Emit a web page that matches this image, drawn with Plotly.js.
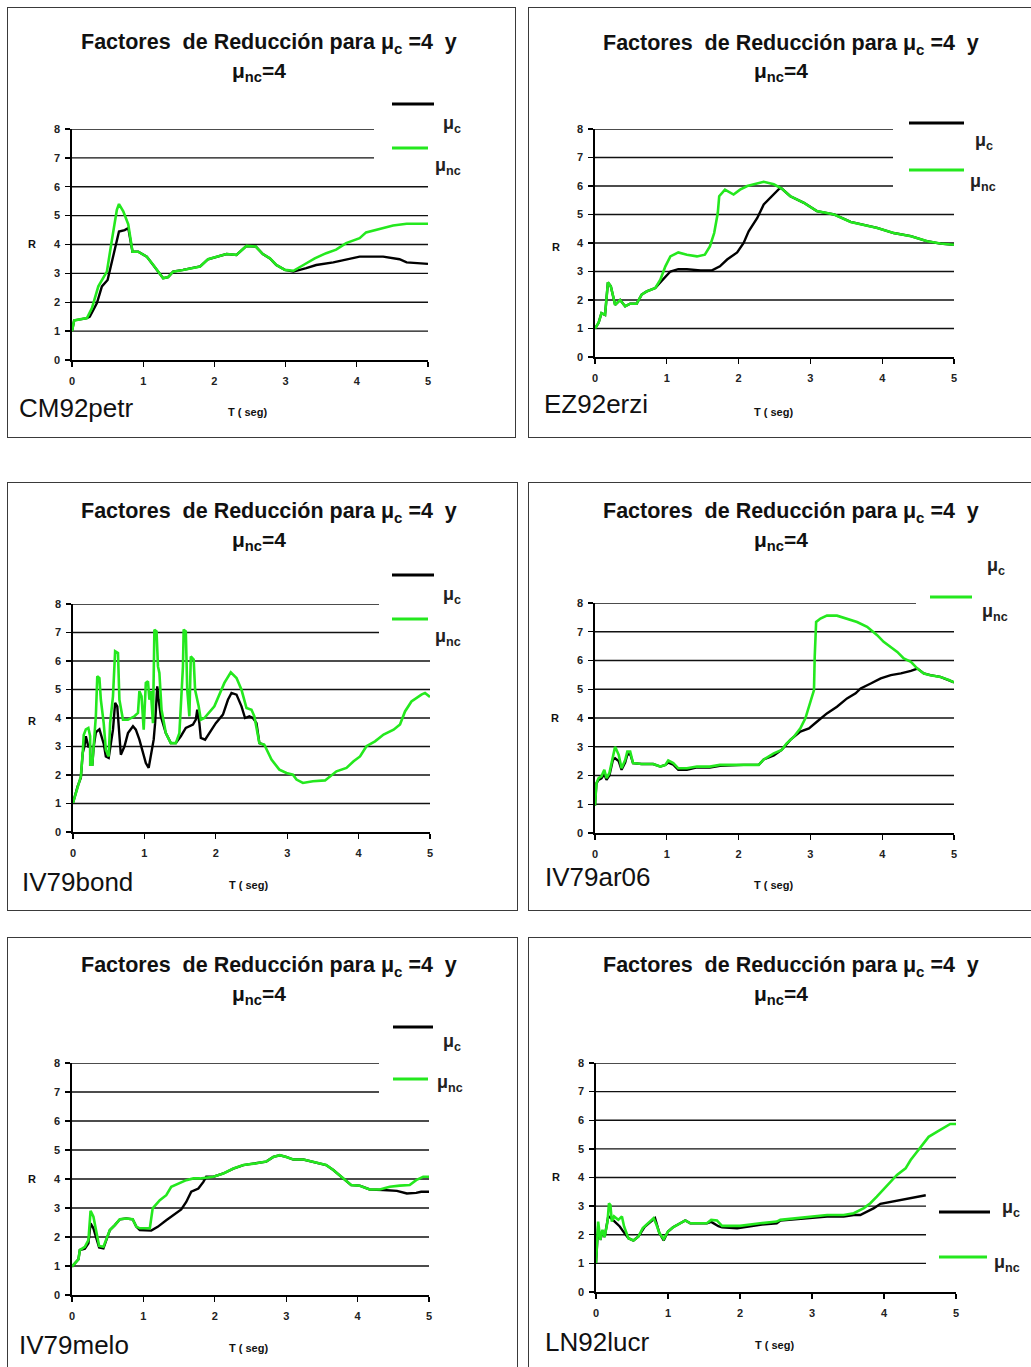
<!DOCTYPE html>
<html>
<head>
<meta charset="utf-8">
<script src="https://cdn.plot.ly/plotly-3.0.1.min.js"></script>
<style>
  body { margin:0; background:#fff; width:1031px; height:1367px; overflow:hidden; position:relative; }
  .box { position:absolute; border:1.5px solid #3a3a3a; box-sizing:border-box; background:#fff; }
  .plt { position:absolute; }
</style>
</head>
<body>
<script>
// ---------------- DATA ----------------
// Panel 1: CM92petr
const cm92petr_T_c  = [0,0.03,0.21,0.25,0.35,0.42,0.5,0.58,0.66,0.74,0.79,0.85,0.93,1.05,1.14,1.28,1.35,1.42,1.56,1.70,1.80,1.91,2.03,2.17,2.31,2.45,2.58,2.68,2.78,2.87,2.99,3.11,3.29,3.43,3.67,3.85,4.04,4.37,4.60,4.70,4.84,5.0];
const cm92petr_R_c  = [1.0,1.37,1.45,1.50,1.97,2.55,2.77,3.58,4.45,4.50,4.57,3.75,3.75,3.58,3.30,2.83,2.87,3.06,3.12,3.18,3.24,3.49,3.58,3.67,3.64,3.95,3.93,3.67,3.52,3.29,3.12,3.06,3.18,3.29,3.38,3.47,3.58,3.58,3.49,3.38,3.35,3.33];
const cm92petr_T_nc = [0,0.03,0.21,0.28,0.37,0.49,0.56,0.63,0.66,0.72,0.79,0.85,0.93,1.05,1.14,1.28,1.35,1.42,1.56,1.70,1.80,1.91,2.03,2.17,2.31,2.45,2.58,2.68,2.78,2.87,2.99,3.11,3.25,3.41,3.57,3.71,3.85,4.04,4.13,4.32,4.51,4.70,5.0];
const cm92petr_R_nc = [1.0,1.37,1.45,1.80,2.55,3.06,4.15,5.20,5.40,5.15,4.70,3.75,3.75,3.58,3.30,2.83,2.87,3.06,3.12,3.18,3.24,3.49,3.58,3.67,3.64,3.95,3.93,3.67,3.52,3.29,3.12,3.09,3.29,3.52,3.70,3.82,4.05,4.22,4.42,4.53,4.66,4.72,4.72];

// Panel 2: EZ92erzi
const ez92erzi_T_c  = [0,0.05,0.09,0.14,0.18,0.22,0.28,0.35,0.42,0.49,0.58,0.65,0.72,0.84,0.88,0.98,1.05,1.16,1.28,1.47,1.63,1.74,1.84,1.98,2.07,2.14,2.26,2.35,2.49,2.58,2.60,2.72,2.91,3.09,3.33,3.56,3.93,4.16,4.40,4.63,4.81,5.0];
const ez92erzi_R_c  = [1.0,1.2,1.54,1.48,2.62,2.48,1.83,2.0,1.78,1.87,1.87,2.19,2.30,2.42,2.54,2.83,3.0,3.08,3.08,3.04,3.04,3.18,3.42,3.67,4.0,4.41,4.88,5.35,5.70,5.94,5.91,5.64,5.41,5.12,5.0,4.74,4.53,4.35,4.24,4.06,3.98,3.94];
const ez92erzi_T_nc = [0,0.05,0.09,0.14,0.18,0.22,0.28,0.35,0.42,0.49,0.58,0.65,0.72,0.84,0.91,0.98,1.05,1.16,1.28,1.42,1.53,1.60,1.66,1.71,1.73,1.81,1.93,2.02,2.12,2.26,2.35,2.49,2.60,2.72,2.91,3.09,3.33,3.56,3.93,4.16,4.40,4.63,4.81,5.0];
const ez92erzi_R_nc = [1.0,1.2,1.54,1.48,2.62,2.48,1.83,2.0,1.78,1.87,1.87,2.19,2.30,2.42,2.71,3.18,3.53,3.67,3.59,3.53,3.59,3.88,4.35,5.05,5.64,5.87,5.70,5.87,6.0,6.09,6.15,6.06,5.91,5.64,5.41,5.12,5.0,4.74,4.53,4.35,4.24,4.06,3.98,3.94];

// Panel 3: IV79bond
const iv79bond_T_c  = [0,0.065,0.11,0.136,0.16,0.18,0.215,0.24,0.241,0.27,0.29,0.32,0.37,0.43,0.46,0.50,0.56,0.59,0.62,0.64,0.67,0.72,0.77,0.84,0.88,0.93,0.98,1.02,1.06,1.09,1.13,1.15,1.18,1.20,1.23,1.30,1.37,1.44,1.51,1.58,1.63,1.68,1.72,1.74,1.77,1.79,1.85,1.91,2.0,2.10,2.17,2.22,2.29,2.36,2.41,2.47,2.52,2.57,2.61,2.68];
const iv79bond_R_c  = [1.02,1.6,1.9,2.77,3.0,3.36,3.0,3.0,2.36,2.36,3.0,3.5,3.6,3.1,2.65,2.6,3.59,4.53,4.41,3.59,2.71,3.0,3.47,3.71,3.59,3.24,2.77,2.42,2.25,2.65,3.24,3.82,5.11,4.64,4.06,3.47,3.12,3.12,3.36,3.65,3.71,3.77,3.94,4.29,3.82,3.3,3.24,3.47,3.82,4.12,4.64,4.88,4.82,4.41,4.0,4.06,4.0,3.82,3.12,3.06];
const iv79bond_T_nc = [0,0.065,0.11,0.136,0.15,0.18,0.215,0.24,0.241,0.27,0.29,0.32,0.34,0.37,0.39,0.43,0.46,0.50,0.52,0.56,0.59,0.63,0.65,0.70,0.77,0.86,0.91,0.93,0.96,0.99,1.02,1.05,1.07,1.09,1.12,1.14,1.17,1.19,1.21,1.24,1.30,1.37,1.44,1.49,1.54,1.55,1.58,1.60,1.63,1.65,1.69,1.71,1.76,1.79,1.84,1.98,2.12,2.21,2.29,2.36,2.43,2.50,2.54,2.61,2.68,2.78,2.89,2.99,3.08,3.13,3.22,3.36,3.53,3.60,3.69,3.83,3.93,4.02,4.11,4.23,4.35,4.49,4.58,4.65,4.74,4.88,4.93,5.0];
const iv79bond_R_nc = [1.02,1.6,1.95,2.77,3.4,3.6,3.65,3.36,2.36,2.36,3.0,4.06,5.46,5.4,4.64,3.82,2.89,2.65,3.82,4.76,6.34,6.28,4.64,3.94,3.94,4.06,4.18,4.94,4.76,3.59,5.23,5.29,4.64,4.94,3.82,7.1,7.04,5.81,5.58,4.29,3.47,3.12,3.12,3.47,5.81,7.1,7.04,4.99,4.06,6.16,6.05,4.99,4.41,3.94,4.0,4.41,5.23,5.6,5.4,4.99,4.35,4.29,4.06,3.12,3.06,2.54,2.19,2.07,2.01,1.84,1.72,1.78,1.81,1.95,2.13,2.25,2.48,2.65,3.01,3.18,3.42,3.59,3.77,4.23,4.58,4.82,4.88,4.74];

// Panel 4: IV79ar06
const iv79ar06_T_c  = [0,0.02,0.05,0.09,0.13,0.16,0.20,0.25,0.28,0.33,0.37,0.42,0.45,0.49,0.53,0.65,0.81,0.91,0.98,1.02,1.09,1.16,1.28,1.42,1.60,1.74,2.07,2.28,2.35,2.49,2.60,2.72,2.86,2.98,3.09,3.23,3.37,3.51,3.63,3.70,3.84,3.98,4.12,4.26,4.40,4.49,4.58,4.67,4.81,4.93,5.0];
const iv79ar06_R_c  = [0.96,1.73,1.85,1.9,2.05,1.85,2.0,2.55,2.6,2.5,2.2,2.45,2.72,2.75,2.43,2.4,2.4,2.31,2.37,2.45,2.38,2.2,2.2,2.28,2.28,2.34,2.37,2.37,2.56,2.70,2.89,3.24,3.53,3.64,3.87,4.16,4.39,4.68,4.86,5.03,5.20,5.38,5.49,5.55,5.64,5.72,5.55,5.49,5.43,5.32,5.24];
const iv79ar06_T_nc = [0,0.02,0.05,0.09,0.13,0.16,0.20,0.25,0.28,0.33,0.37,0.42,0.45,0.49,0.53,0.65,0.81,0.91,0.98,1.02,1.09,1.16,1.28,1.42,1.60,1.74,2.07,2.28,2.35,2.49,2.60,2.67,2.77,2.86,2.93,2.99,3.05,3.06,3.08,3.14,3.23,3.37,3.51,3.65,3.79,3.93,4.02,4.12,4.21,4.30,4.40,4.49,4.58,4.67,4.81,4.93,5.0];
const iv79ar06_R_nc = [0.96,1.73,1.91,1.97,2.2,1.91,2.08,2.66,3.0,2.72,2.25,2.54,2.83,2.83,2.43,2.4,2.4,2.31,2.37,2.52,2.43,2.25,2.25,2.31,2.31,2.37,2.37,2.37,2.56,2.77,2.89,3.12,3.35,3.64,3.99,4.51,4.97,6.13,7.34,7.46,7.56,7.56,7.46,7.34,7.17,6.88,6.65,6.47,6.30,6.07,5.95,5.72,5.55,5.49,5.43,5.32,5.24];

// Panel 5: IV79melo
const iv79melo_T_c  = [0,0.04,0.09,0.11,0.18,0.23,0.26,0.30,0.35,0.38,0.44,0.49,0.53,0.60,0.67,0.76,0.85,0.90,0.95,1.11,1.20,1.32,1.42,1.53,1.60,1.67,1.77,1.84,1.88,1.98,2.12,2.26,2.40,2.58,2.72,2.82,2.91,3.0,3.10,3.24,3.38,3.56,3.66,3.75,3.84,3.91,4.03,4.17,4.36,4.55,4.69,4.82,4.89,5.0];
const iv79melo_R_c  = [0.98,1.09,1.23,1.55,1.60,1.78,2.47,2.3,1.84,1.64,1.61,1.95,2.24,2.41,2.61,2.64,2.61,2.36,2.24,2.22,2.35,2.58,2.76,2.95,3.21,3.56,3.67,3.90,4.08,4.08,4.19,4.36,4.48,4.54,4.6,4.76,4.82,4.76,4.67,4.67,4.59,4.48,4.31,4.13,3.96,3.79,3.77,3.64,3.62,3.59,3.50,3.52,3.56,3.56];
const iv79melo_T_nc = [0,0.04,0.09,0.11,0.18,0.23,0.26,0.30,0.35,0.38,0.44,0.49,0.53,0.60,0.67,0.76,0.85,0.90,0.95,1.09,1.13,1.23,1.32,1.39,1.51,1.60,1.70,1.79,1.98,2.12,2.26,2.40,2.58,2.72,2.82,2.91,3.0,3.10,3.24,3.38,3.56,3.66,3.75,3.84,3.91,4.03,4.17,4.31,4.45,4.59,4.73,4.82,4.92,5.0];
const iv79melo_R_nc = [0.98,1.09,1.23,1.55,1.66,1.89,2.9,2.7,2.0,1.69,1.66,2.0,2.24,2.41,2.61,2.64,2.61,2.36,2.3,2.3,2.99,3.27,3.44,3.73,3.85,3.96,4.02,4.02,4.08,4.19,4.36,4.48,4.54,4.6,4.76,4.82,4.76,4.67,4.67,4.59,4.48,4.31,4.13,3.96,3.79,3.77,3.64,3.64,3.73,3.77,3.79,3.96,4.08,4.08];

// Panel 6: LN92lucr
const ln92lucr_T_c  = [0,0.02,0.03,0.06,0.09,0.12,0.17,0.20,0.26,0.33,0.38,0.45,0.52,0.59,0.68,0.77,0.82,0.88,0.94,1.0,1.07,1.17,1.24,1.31,1.54,1.60,1.70,1.75,1.96,2.28,2.51,2.56,2.98,3.21,3.44,3.58,3.67,3.86,3.95,4.13,4.32,4.46,4.58];
const ln92lucr_R_c  = [1.01,1.9,2.3,1.82,2.1,1.92,2.64,2.6,2.46,2.29,2.11,1.88,1.80,1.94,2.29,2.46,2.58,2.06,1.80,2.11,2.26,2.40,2.50,2.40,2.40,2.45,2.30,2.26,2.23,2.35,2.40,2.50,2.60,2.64,2.64,2.69,2.69,2.93,3.08,3.16,3.24,3.31,3.38];
const ln92lucr_T_nc = [0,0.02,0.03,0.06,0.09,0.12,0.16,0.18,0.20,0.22,0.25,0.31,0.36,0.39,0.45,0.52,0.59,0.65,0.73,0.80,0.84,0.88,0.94,1.0,1.07,1.17,1.24,1.31,1.54,1.60,1.68,1.75,2.0,2.28,2.51,2.56,2.98,3.21,3.44,3.58,3.72,3.81,3.90,3.99,4.08,4.18,4.30,4.37,4.44,4.53,4.62,4.74,4.85,4.92,5.0];
const ln92lucr_R_nc = [1.01,2.06,2.46,1.82,2.17,1.92,2.46,3.1,3.04,2.46,2.64,2.52,2.64,2.29,1.88,1.80,1.94,2.23,2.40,2.58,2.35,2.06,1.85,2.11,2.26,2.40,2.50,2.40,2.40,2.52,2.50,2.31,2.31,2.40,2.46,2.52,2.64,2.69,2.69,2.75,2.93,3.10,3.33,3.57,3.80,4.09,4.32,4.61,4.84,5.13,5.42,5.60,5.75,5.87,5.87];

// Labels
const stationNames = ['CM92petr','EZ92erzi','IV79bond','IV79ar06','IV79melo','LN92lucr'];
const seriesNames  = ['μ<sub>c</sub>','μ<sub>nc</sub>'];
const titleLine1   = 'Factores  de Reducción para μ<sub>c</sub> =4  y';
const titleLine2   = 'μ<sub>nc</sub>=4';
const yTitle = 'R';
const xTitle = 'T ( seg)';
const xTicks = [0,1,2,3,4,5];
const yTicks = [0,1,2,3,4,5,6,7,8];

// ---------------- LAYOUT (page pixel geometry) ----------------
const FONT  = 'Liberation Sans, Arial, Helvetica, sans-serif';
const GREEN = '#24e81e';
const panels = [
  { name:0, Tc:cm92petr_T_c, Rc:cm92petr_R_c, Tn:cm92petr_T_nc, Rn:cm92petr_R_nc,
    box:[7,7,516,438], plot:[72,428,129,360],
    t1:[269,44], t2:[259,72], R:[32,244], T:[247,412], st:[17,408],
    shortGrid:{levels:[7,8], end:374},
    legC:{line:[392,434,104], txt:[441,125]}, legN:{line:[392,428,148], txt:[433,166]} },
  { name:1, Tc:ez92erzi_T_c, Rc:ez92erzi_R_c, Tn:ez92erzi_T_nc, Rn:ez92erzi_R_nc,
    box:[528,7,1040,438], plot:[595,954,129,357],
    t1:[791,44], t2:[781,72], R:[556,247], T:[773,412], st:[542,404],
    shortGrid:{levels:[6,7,8], end:893},
    legC:{line:[909,964,123], txt:[973,141]}, legN:{line:[909,964,170], txt:[968,182]} },
  { name:2, Tc:iv79bond_T_c, Rc:iv79bond_R_c, Tn:iv79bond_T_nc, Rn:iv79bond_R_nc,
    box:[7,482,518,911], plot:[73,430,604,832],
    t1:[269,512], t2:[259,541], R:[32,721], T:[248,885], st:[20,882],
    shortGrid:{levels:[7,8], end:379},
    legC:{line:[392,434,575], txt:[441,596]}, legN:{line:[392,428,619], txt:[433,637]} },
  { name:3, Tc:iv79ar06_T_c, Rc:iv79ar06_R_c, Tn:iv79ar06_T_nc, Rn:iv79ar06_R_nc,
    box:[528,482,1040,911], plot:[595,954,603,833],
    t1:[791,512], t2:[781,541], R:[555,718], T:[773,885], st:[543,877],
    shortGrid:{levels:[8], end:916},
    legC:{line:null, txt:[985,566]}, legN:{line:[930,972,597], txt:[980,612]} },
  { name:4, Tc:iv79melo_T_c, Rc:iv79melo_R_c, Tn:iv79melo_T_nc, Rn:iv79melo_R_nc,
    box:[7,937,518,1380], plot:[72,429,1063,1295],
    t1:[269,966], t2:[259,995], R:[32,1179], T:[248,1348], st:[17,1345],
    shortGrid:{levels:[7,8], end:379},
    legC:{line:[393,433,1027], txt:[441,1042]}, legN:{line:[393,428,1079], txt:[435,1083]} },
  { name:5, Tc:ln92lucr_T_c, Rc:ln92lucr_R_c, Tn:ln92lucr_T_nc, Rn:ln92lucr_R_nc,
    box:[528,937,1040,1380], plot:[596,956,1063,1292],
    t1:[791,966], t2:[781,995], R:[556,1177], T:[774,1345], st:[543,1342],
    shortGrid:{levels:[1,2,3], end:926},
    legC:{line:[939,990,1212], txt:[1000,1208]}, legN:{line:[939,987,1257], txt:[992,1263]} }
];

// Remove Plotly's zero-width-space helper nodes around <sub> without changing layout
const ZW = '\u200b';
function cleanText(root) {
  root.querySelectorAll('text').forEach(t => { if (!t.textContent.replace(/\u200b/g,'').trim()) t.remove(); });
  // resetter tspans: contain only ZWSP and carry the baseline-reset dy
  Array.from(root.querySelectorAll('tspan')).forEach(ts => {
    if (ts.textContent === ZW) {
      if (!ts.nextSibling) { ts.remove(); return; }
      ts.textContent = '';
      while (ts.nextSibling) ts.appendChild(ts.nextSibling);
    }
  });
  // stray ZWSP text nodes
  const walker = document.createTreeWalker(root, NodeFilter.SHOW_TEXT);
  const nodes = [];
  while (walker.nextNode()) nodes.push(walker.currentNode);
  nodes.forEach(n => {
    if (n.data.indexOf(ZW) >= 0) {
      n.data = n.data.replace(/\u200b/g, '');
      if (!n.data.length) n.remove();
    }
  });
}

function build(p) {
  const [bx0,by0,bx1,by1] = p.box;
  const [px0,px1,py0,py1] = p.plot; // py0 = pixel of R=8, py1 = pixel of R=0
  const W = bx1-bx0, H = by1-by0;
  const fx = x => (x - px0)/(px1 - px0);
  const fy = y => (py1 - y)/(py1 - py0);
  const dataX = x => (x - px0)/(px1 - px0)*5;

  const boxDiv = document.createElement('div');
  boxDiv.className = 'box';
  boxDiv.style.left = bx0+'px'; boxDiv.style.top = by0+'px';
  boxDiv.style.width = W+'px'; boxDiv.style.height = H+'px';
  document.body.appendChild(boxDiv);

  const div = document.createElement('div');
  div.className = 'plt';
  div.style.left = bx0+'px'; div.style.top = by0+'px';
  div.style.width = W+'px'; div.style.height = H+'px';
  document.body.appendChild(div);

  const traces = [
    { x:p.Tc, y:p.Rc, type:'scatter', mode:'lines', name:seriesNames[0],
      line:{color:'#000', width:2.4}, hoverinfo:'skip', showlegend:false },
    { x:p.Tn, y:p.Rn, type:'scatter', mode:'lines', name:seriesNames[1],
      line:{color:GREEN, width:2.6}, hoverinfo:'skip', showlegend:false }
  ];

  const shapes = [];
  yTicks.filter(v => v > 0).forEach(v => {
    const short = p.shortGrid.levels.includes(v);
    shapes.push({ type:'line', xref:'x', yref:'y', layer:'below',
      x0:0, x1: short ? dataX(p.shortGrid.end) : 5, y0:v, y1:v,
      line:{color:'#111', width:1.4} });
  });
  if (p.legC.line) {
    const [a,b,y] = p.legC.line;
    shapes.push({ type:'line', xref:'paper', yref:'paper', x0:fx(a), x1:fx(b), y0:fy(y), y1:fy(y), line:{color:'#000', width:3} });
  }
  {
    const [a,b,y] = p.legN.line;
    shapes.push({ type:'line', xref:'paper', yref:'paper', x0:fx(a), x1:fx(b), y0:fy(y), y1:fy(y), line:{color:GREEN, width:3} });
  }

  const ann = (text, pos, size, opts={}) => Object.assign({
    text, xref:'paper', yref:'paper', x:fx(pos[0]), y:fy(pos[1]),
    showarrow:false, xanchor:'center', yanchor:'middle',
    font:{family:FONT, size, color:'#111', weight:'bold'}
  }, opts);

  const annotations = [
    ann(titleLine1, p.t1, 21.5),
    ann(titleLine2, p.t2, 21),
    ann(yTitle, p.R, 11),
    ann(xTitle, p.T, 11),
    ann(stationNames[p.name], p.st, 26, {xanchor:'left', font:{family:FONT, size:26, color:'#111', weight:'normal'}}),
    ann(seriesNames[0], p.legC.txt, 18, {xanchor:'left', font:{family:FONT, size:18, color:'#222', weight:'bold'}}),
    ann(seriesNames[1], p.legN.txt, 18, {xanchor:'left', font:{family:FONT, size:18, color:'#222', weight:'bold'}})
  ];

  const tickfont = {family:FONT, size:11, color:'#222', weight:'bold'};
  const layout = {
    width: W, height: H,
    margin: { l: px0-bx0, r: bx1-px1, t: py0-by0, b: by1-py1, pad:0 },
    paper_bgcolor:'rgba(0,0,0,0)', plot_bgcolor:'#fff',
    showlegend:false,
    xaxis:{ range:[0,5], tickvals:xTicks, ticktext:xTicks.map(String), showgrid:false, zeroline:false,
      showline:true, linecolor:'#000', linewidth:1.6, ticks:'outside', ticklen:5, tickwidth:1.3,
      tickcolor:'#000', tickfont, ticklabelstandoff:5, fixedrange:true, automargin:false },
    yaxis:{ range:[0,8], tickvals:yTicks, ticktext:yTicks.map(String), showgrid:false, zeroline:false,
      showline:true, linecolor:'#000', linewidth:1.6, ticks:'outside', ticklen:5, tickwidth:1.3,
      tickcolor:'#000', tickfont, ticklabelstandoff:3, fixedrange:true, automargin:false },
    shapes, annotations
  };
  Plotly.newPlot(div, traces, layout, {staticPlot:true, displayModeBar:false}).then(() => cleanText(div));
}

panels.forEach(build);
</script>
</body>
</html>
